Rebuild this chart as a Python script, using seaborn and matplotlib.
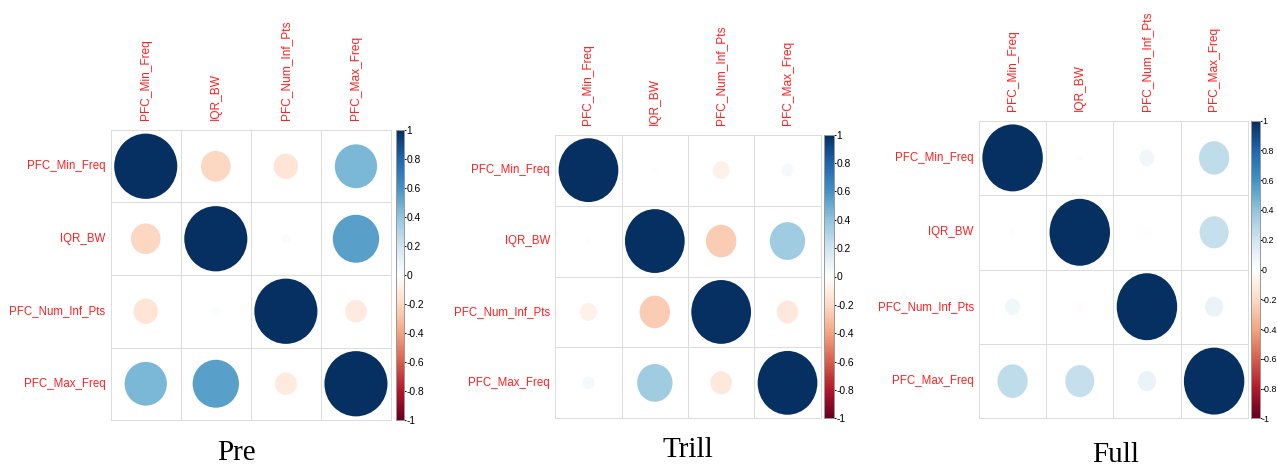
import numpy as np
import pandas as pd
import matplotlib
matplotlib.use("Agg")
import matplotlib.pyplot as plt
from matplotlib.colors import LinearSegmentedColormap, Normalize
from matplotlib.patches import Ellipse
import seaborn as sns

# ---- data ----
variables = ["PFC_Min_Freq", "IQR_BW", "PFC_Num_Inf_Pts", "PFC_Max_Freq"]
panel_titles = ["Pre", "Trill", "Full"]
pre_corr = [[1.00, -0.22, -0.15, 0.45],
            [-0.22, 1.00, 0.02, 0.54],
            [-0.15, 0.02, 1.00, -0.12],
            [0.45, 0.54, -0.12, 1.00]]
trill_corr = [[1.00, 0.01, -0.08, 0.04],
              [0.01, 1.00, -0.26, 0.35],
              [-0.08, -0.26, 1.00, -0.13],
              [0.04, 0.35, -0.13, 1.00]]
full_corr = [[1.00, 0.01, 0.06, 0.25],
             [0.01, 1.00, -0.02, 0.23],
             [0.06, -0.02, 1.00, 0.09],
             [0.25, 0.23, 0.09, 1.00]]
cbar_ticks = [-1, -0.8, -0.6, -0.4, -0.2, 0, 0.2, 0.4, 0.6, 0.8, 1]
cbar_ticklabels = ["-1", "-0.8", "-0.6", "-0.4", "-0.2", "0", "0.2", "0.4", "0.6", "0.8", "1"]

sns.set_theme(style="white")
plt.rcParams["font.family"] = ["Liberation Sans", "DejaVu Sans"]

cmap = LinearSegmentedColormap.from_list(
    "corrRdBu",
    ["#67001F", "#B2182B", "#D6604D", "#F4A582", "#FDDBC7", "#FFFFFF",
     "#D1E5F0", "#92C5DE", "#4393C3", "#2166AC", "#053061"], N=200)
norm = Normalize(vmin=-1, vmax=1)

W, H = 1277, 472
fig = plt.figure(figsize=(W / 100, H / 100), dpi=100)


def px_rect(x0, x1, ytop, ybot):
    return [x0 / W, 1 - ybot / H, (x1 - x0) / W, (ybot - ytop) / H]


layout = [
    # axes (x0, x1, ytop, ybot), cbar (x0, x1), title (x, y), cbar label size
    ((110.7, 391.0, 130.0, 420.0), (395.7, 404.0), (236, 453), 7.4),
    ((555.3, 820.7, 134.7, 418.3), (824.3, 834.0), (688, 450), 7.4),
    ((979.0, 1247.7, 120.7, 418.3), (1250.5, 1259.5), (1116, 455), 6.4),
]
mats = [pre_corr, trill_corr, full_corr]
grid_col = "#DCDCDC"

for mat, title, (axr, cbx, tpos, cls) in zip(mats, panel_titles, layout):
    ax = fig.add_axes(px_rect(*axr))
    cax = fig.add_axes(px_rect(cbx[0], cbx[1], axr[2], axr[3]))
    df = pd.DataFrame(mat, index=variables, columns=variables)
    sns.heatmap(df, ax=ax, cmap=cmap, vmin=-1, vmax=1, cbar_ax=cax,
                linewidths=0.6, linecolor=grid_col)
    mesh = ax.collections[0]
    mesh.set_array(None)
    mesh.set_facecolor("white")
    mesh.set_clip_on(False)
    # circles
    vals = df.values
    n = len(variables)
    for i in range(n):
        for j in range(n):
            r = vals[i, j]
            d = 0.9 * np.sqrt(abs(r))
            ax.add_patch(Ellipse((j + 0.5, i + 0.5), d, d,
                                 facecolor=cmap(norm(r)), edgecolor="none", zorder=3))
    # labels
    ax.xaxis.tick_top()
    ax.set_xticklabels(variables, rotation=90, color="#FF2020", fontsize=8.6)
    ax.set_yticklabels(variables, rotation=0, color="#FF2020", fontsize=8.3)
    ax.tick_params(axis="x", length=0, pad=7)
    ax.tick_params(axis="y", length=0, pad=3.8)
    ax.set_xlabel("")
    ax.set_ylabel("")
    for s in ax.spines.values():
        s.set_visible(True)
        s.set_color(grid_col)
        s.set_linewidth(0.6)
    # colorbar
    cax.set_yticks(cbar_ticks)
    cax.set_yticklabels(cbar_ticklabels)
    cax.tick_params(axis="y", length=1.5, width=0.7, pad=0.3, labelsize=cls,
                    colors="black", right=True, left=False)
    for s in cax.spines.values():
        s.set_visible(True)
        s.set_color("#9A9A9A")
        s.set_linewidth(0.7)
    fig.text(tpos[0] / W, 1 - tpos[1] / H, title, ha="center", va="center",
             fontsize=21, family=["Liberation Serif", "DejaVu Serif"], color="black")

fig.savefig("out.png", dpi=100, facecolor="white")
